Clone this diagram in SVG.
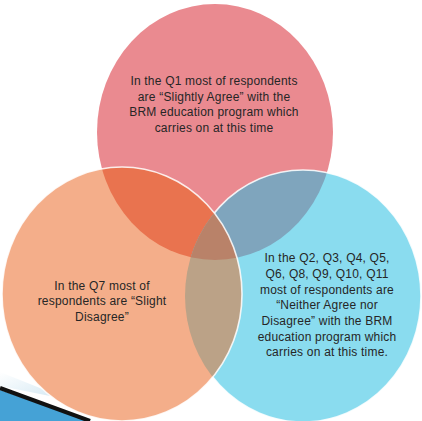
<svg xmlns="http://www.w3.org/2000/svg" width="422" height="421" viewBox="0 0 422 421">
  <style>
    .lbl { font-family: "Liberation Sans", Arial, sans-serif; font-size: 12px; letter-spacing: 0.2px; fill: #262626; text-anchor: middle; }
    .edge { fill: none; stroke: #ffffff; stroke-opacity: 0.85; stroke-width: 1.6; }
  </style>
  <defs>
    <clipPath id="clipLeft"><ellipse cx="122" cy="294" rx="120" ry="127"/></clipPath>
    <clipPath id="clipRight"><ellipse cx="303" cy="296" rx="118" ry="126"/></clipPath>
    <mask id="notLeft">
      <rect x="0" y="0" width="422" height="421" fill="#fff"/>
      <ellipse cx="122" cy="294" rx="120" ry="127" fill="#000"/>
    </mask>
    <linearGradient id="swooshLight" x1="0" y1="0" x2="1" y2="1">
      <stop offset="0" stop-color="#ffffff"/>
      <stop offset="1" stop-color="#cfe6f2"/>
    </linearGradient>
  </defs>

  <rect x="0" y="0" width="422" height="421" fill="#ffffff"/>

  <g id="decoration">
    <polygon points="0,372 70,400 0,386" fill="url(#swooshLight)"/>
    <polygon points="0,390 90,421 0,421" fill="#45a2d6"/>
    <line x1="0" y1="388" x2="90" y2="421" stroke="#111" stroke-width="4"/>
  </g>

  <g id="circle-q1">
    <ellipse cx="215" cy="132" rx="118" ry="128" fill="#ea8a90"/>
  </g>
  <g id="circle-q2">
    <ellipse cx="303" cy="296" rx="118" ry="126" fill="#8adcef"/>
  </g>
  <g id="circle-q7">
    <ellipse cx="122" cy="294" rx="120" ry="127" fill="#f4ae8a"/>
  </g>

  <g id="overlaps">
    <ellipse cx="215" cy="132" rx="118" ry="128" fill="#e9734f" clip-path="url(#clipLeft)"/>
    <ellipse cx="215" cy="132" rx="118" ry="128" fill="#7fa5bd" clip-path="url(#clipRight)"/>
    <ellipse cx="303" cy="296" rx="118" ry="126" fill="#bba287" clip-path="url(#clipLeft)"/>
    <g clip-path="url(#clipLeft)">
      <ellipse cx="215" cy="132" rx="118" ry="128" fill="#b98269" clip-path="url(#clipRight)"/>
    </g>
  </g>

  <g id="edges">
    <ellipse class="edge" cx="303" cy="296" rx="118" ry="126" mask="url(#notLeft)"/>
    <ellipse class="edge" cx="122" cy="294" rx="120" ry="127"/>
  </g>

  <g id="text-q1">
    <text class="lbl" x="214" y="85">In the Q1 most of respondents</text>
    <text class="lbl" x="214" y="101">are “Slightly Agree” with the</text>
    <text class="lbl" x="214" y="116">BRM education program which</text>
    <text class="lbl" x="214" y="132">carries on at this time</text>
  </g>
  <g id="text-q7">
    <text class="lbl" x="102" y="290">In the Q7 most of</text>
    <text class="lbl" x="102" y="305">respondents are “Slight</text>
    <text class="lbl" x="102" y="321">Disagree”</text>
  </g>
  <g id="text-q2">
    <text class="lbl" x="327" y="262">In the Q2, Q3, Q4, Q5,</text>
    <text class="lbl" x="327" y="278">Q6, Q8, Q9, Q10, Q11</text>
    <text class="lbl" x="327" y="294">most of respondents are</text>
    <text class="lbl" x="327" y="309">“Neither Agree nor</text>
    <text class="lbl" x="327" y="325">Disagree” with the BRM</text>
    <text class="lbl" x="327" y="341">education program which</text>
    <text class="lbl" x="327" y="356">carries on at this time.</text>
  </g>
</svg>
